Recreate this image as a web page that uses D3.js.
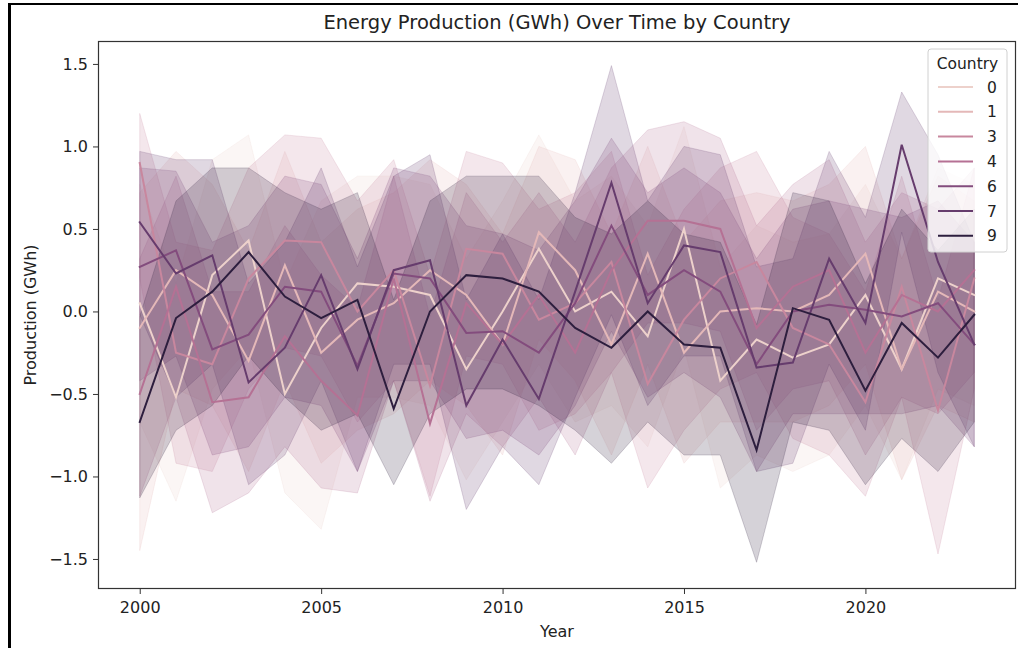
<!DOCTYPE html>
<html>
<head>
<meta charset="utf-8">
<script src="https://cdn.jsdelivr.net/npm/d3@7"></script>
<style>
  html, body { margin: 0; padding: 0; background: #fff; }
  svg { display: block; font-family: "DejaVu Sans", sans-serif; }
</style>
</head>
<body>
<svg id="chart" width="1018" height="648"></svg>
<script>
// Years on the x axis
const years = d3.range(2000, 2024);

// Country codes (hue levels)
const countries = [0, 1, 3, 4, 6, 7, 9];

// Mean production per country per year, with lower / upper 95% interval bounds
const mean0 = [0.05, -0.52, 0.22, 0.43, -0.5, -0.1, 0.17, 0.15, 0.1, -0.35, 0.0, 0.38, 0.0, 0.12, -0.15, 0.5, -0.42, -0.17, -0.28, -0.2, 0.1, -0.35, 0.2, 0.1];
const lo0   = [-0.67, -1.15, -0.47, -0.22, -1.1, -1.32, -0.52, -0.52, -0.57, -1.02, -0.67, -0.32, -0.67, -0.57, -0.82, -0.22, -1.07, -0.87, -0.97, -0.87, -0.57, -1.02, -0.47, -0.57];
const hi0   = [0.77, 0.17, 0.92, 1.07, 0.17, 0.67, 0.82, 0.82, 0.77, 0.32, 0.67, 1.07, 0.67, 0.82, 0.52, 1.12, 0.27, 0.52, 0.42, 0.47, 0.77, 0.32, 0.87, 0.77];

const mean1 = [-0.1, 0.25, 0.1, -0.3, 0.28, -0.25, -0.05, 0.05, 0.25, 0.1, -0.2, 0.48, 0.25, -0.2, 0.35, -0.25, 0.0, 0.02, 0.0, 0.1, 0.35, -0.35, 0.12, 0.0];
const lo1   = [-1.45, -0.47, -0.57, -0.97, -0.42, -0.92, -0.72, -0.62, -0.42, -0.57, -0.87, -0.17, -0.42, -0.87, -0.32, -0.92, -0.67, -0.67, -0.67, -0.57, -0.32, -1.02, -0.57, -0.67];
const hi1   = [0.72, 0.97, 0.77, 0.37, 0.97, 0.42, 0.62, 0.72, 0.92, 0.77, 0.47, 1.0, 0.92, 0.47, 1.0, 0.42, 0.67, 0.72, 0.67, 0.77, 1.0, 0.32, 0.82, 0.67];

const mean3 = [0.9, -0.25, -0.32, 0.2, 0.43, 0.42, 0.0, 0.25, -0.45, 0.38, 0.35, -0.05, 0.05, 0.3, -0.44, -0.05, 0.2, 0.3, -0.1, -0.2, -0.55, 0.15, -0.6, 0.2];
const lo3   = [0.2, -0.92, -0.97, -0.47, -0.22, -0.27, -0.67, -0.42, -1.12, -0.27, -0.32, -0.72, -0.62, -0.37, -1.07, -0.72, -0.47, -0.37, -0.77, -0.87, -1.12, -0.52, -1.47, -0.47];
const hi3   = [1.2, 0.42, 0.37, 0.87, 1.07, 1.05, 0.67, 0.92, 0.22, 0.97, 0.9, 0.62, 0.72, 0.97, 0.22, 0.62, 0.87, 0.97, 0.57, 0.47, 0.12, 0.82, 0.07, 0.87];

const mean4 = [-0.5, 0.15, -0.55, -0.52, -0.15, -0.42, -0.63, 0.2, -0.68, 0.05, -0.2, 0.1, -0.25, 0.25, 0.55, 0.55, 0.5, -0.1, 0.15, 0.25, -0.25, 0.1, 0.0, 0.25];
const lo4   = [-1.12, -0.52, -1.22, -1.1, -0.82, -1.07, -1.1, -0.42, -1.15, -0.62, -0.82, -0.52, -0.87, -0.37, -0.07, -0.07, -0.12, -0.72, -0.47, -0.42, -0.87, -0.52, -0.62, -0.37];
const hi4   = [0.32, 0.82, 0.12, 0.12, 0.52, 0.22, 0.02, 0.82, -0.03, 0.72, 0.42, 0.72, 0.42, 0.87, 1.1, 1.15, 1.05, 0.52, 0.77, 0.92, 0.42, 0.72, 0.62, 0.87];

const mean6 = [0.27, 0.37, -0.23, -0.14, 0.15, 0.12, -0.33, 0.23, 0.2, -0.13, -0.12, -0.25, 0.05, 0.52, 0.1, 0.25, 0.12, -0.32, 0.0, 0.04, 0.01, -0.03, 0.05, -0.2];
const lo6   = [-0.42, -0.27, -0.87, -0.82, -0.52, -0.57, -0.97, -0.42, -0.42, -0.77, -0.72, -0.87, -0.57, -0.12, -0.52, -0.37, -0.52, -0.97, -0.62, -0.62, -0.62, -0.62, -0.57, -0.82];
const hi6   = [0.87, 0.85, 0.42, 0.52, 0.82, 0.77, 0.32, 0.87, 0.82, 0.52, 0.47, 0.37, 0.67, 1.05, 0.72, 0.87, 0.72, 0.32, 0.62, 0.67, 0.62, 0.57, 0.67, 0.42];

const mean7 = [0.54, 0.23, 0.34, -0.43, -0.22, 0.22, -0.35, 0.25, 0.31, -0.57, -0.17, -0.53, 0.12, 0.78, 0.05, 0.4, 0.36, -0.34, -0.31, 0.32, -0.07, 1.01, 0.3, -0.2];
const lo7   = [-0.02, -0.52, -0.32, -1.05, -0.87, -0.42, -0.97, -0.32, -0.32, -1.2, -0.82, -1.05, -0.52, -0.02, -0.57, -0.27, -0.27, -0.97, -0.92, -0.32, -0.72, 0.48, -0.37, -0.82];
const hi7   = [0.97, 0.92, 0.92, 0.17, 0.42, 0.87, 0.27, 0.82, 0.95, 0.07, 0.47, 0.07, 0.72, 1.49, 0.67, 1.0, 0.95, 0.27, 0.32, 0.97, 0.57, 1.33, 0.95, 0.42];

const mean9 = [-0.67, -0.04, 0.12, 0.36, 0.09, -0.04, 0.07, -0.59, 0.0, 0.22, 0.2, 0.12, -0.1, -0.22, 0.0, -0.2, -0.22, -0.84, 0.02, -0.05, -0.48, -0.07, -0.28, -0.02];
const lo9   = [-1.13, -0.72, -0.57, -0.27, -0.52, -0.72, -0.62, -1.05, -0.62, -0.47, -0.47, -0.57, -0.72, -0.92, -0.67, -0.87, -0.87, -1.52, -0.67, -0.72, -1.05, -0.77, -0.97, -0.67];
const hi9   = [-0.03, 0.67, 0.87, 0.87, 0.72, 0.62, 0.72, 0.07, 0.67, 0.82, 0.82, 0.82, 0.57, 0.47, 0.67, 0.47, 0.42, -0.08, 0.72, 0.67, 0.17, 0.62, 0.37, 0.62];

const meanSeries = [mean0, mean1, mean3, mean4, mean6, mean7, mean9];
const loSeries   = [lo0, lo1, lo3, lo4, lo6, lo7, lo9];
const hiSeries   = [hi0, hi1, hi3, hi4, hi6, hi7, hi9];

// Axis ticks
const xTicks = [2000, 2005, 2010, 2015, 2020];
const yTicks = [-1.5, -1.0, -0.5, 0.0, 0.5, 1.0, 1.5];

const titleText = "Energy Production (GWh) Over Time by Country";
const xLabel = "Year";
const yLabel = "Production (GWh)";
const legendTitle = "Country";

// Sequential cubehelix colour map (start 0, rot 0.4, hue 0.8, light 0.85 -> dark 0.15)
function cubehelix(l) {
  const phi = 2 * Math.PI * (0 / 3 + 0.4 * l);
  const a = 0.8 * l * (1 - l) / 2;
  const c = Math.cos(phi), s = Math.sin(phi);
  const clamp = v => Math.max(0, Math.min(1, v));
  const r = clamp(l + a * (-0.14861 * c + 1.78277 * s));
  const g = clamp(l + a * (-0.29227 * c - 0.90649 * s));
  const b = clamp(l + a * (1.97294 * c));
  return d3.rgb(r * 255, g * 255, b * 255).formatHex();
}
const hueNorm = d3.scaleLinear().domain(d3.extent(countries)).range([0.85, 0.15]);
const colorOf = c => cubehelix(hueNorm(c));

const svg = d3.select("#chart");

// Plot area
const L = 98, R = 1016, T = 41, B = 589;
const x = d3.scaleLinear().domain([1998.85, 2024.15]).range([L, R]);
const y = d3.scaleLinear().domain([-1.682, 1.639]).range([B, T]);

const series = countries.map((c, i) => ({
  country: c,
  color: colorOf(c),
  points: years.map((yr, j) => ({ year: yr, mean: meanSeries[i][j], lo: loSeries[i][j], hi: hiSeries[i][j] }))
}));

const plot = svg.append("g");
svg.append("clipPath").attr("id", "plotclip")
  .append("rect").attr("x", L).attr("y", T).attr("width", R - L).attr("height", B - T);

// Confidence bands (drawn beneath all lines)
const area = d3.area().x(d => x(d.year)).y0(d => y(d.lo)).y1(d => y(d.hi));
plot.append("g").attr("clip-path", "url(#plotclip)")
  .selectAll("path").data(series).join("path")
  .attr("d", d => area(d.points))
  .attr("fill", d => d.color)
  .attr("fill-opacity", 0.2)
  .attr("stroke", d => d.color)
  .attr("stroke-opacity", 0.2)
  .attr("stroke-width", 1);

// Mean lines
const line = d3.line().x(d => x(d.year)).y(d => y(d.mean));
plot.append("g").attr("clip-path", "url(#plotclip)")
  .selectAll("path").data(series).join("path")
  .attr("d", d => line(d.points))
  .attr("fill", "none")
  .attr("stroke", d => d.color)
  .attr("stroke-width", 2)
  .attr("stroke-linejoin", "miter")
  .attr("stroke-linecap", "square");

// Axes
const fmtY = v => d3.format(".1f")(v).replace("-", "\u2212");
const xAxis = svg.append("g").attr("transform", `translate(0,${B})`)
  .call(d3.axisBottom(x).tickValues(xTicks).tickFormat(d3.format("d")).tickSize(5).tickPadding(5));
const yAxis = svg.append("g").attr("transform", `translate(${L},0)`)
  .call(d3.axisLeft(y).tickValues(yTicks).tickFormat(fmtY).tickSize(5).tickPadding(5));
[xAxis, yAxis].forEach(g => {
  g.select(".domain").remove();
  g.selectAll(".tick line").attr("stroke", "#333").attr("stroke-width", 1);
  g.selectAll(".tick text").attr("fill", "#222").attr("font-size", 16)
    .attr("font-family", "DejaVu Sans, sans-serif");
});
xAxis.selectAll(".tick text").attr("dy", "0.85em");

// Spines
svg.append("rect").attr("x", L + 0.5).attr("y", T + 0.5)
  .attr("width", R - L - 1).attr("height", B - T - 1)
  .attr("fill", "none").attr("stroke", "#333").attr("stroke-width", 1.2);

// Title and axis labels
svg.append("text").attr("x", (L + R) / 2).attr("y", 29)
  .attr("text-anchor", "middle").attr("font-size", 19.5).attr("fill", "#222").text(titleText);
svg.append("text").attr("x", (L + R) / 2).attr("y", 637)
  .attr("text-anchor", "middle").attr("font-size", 16).attr("fill", "#222").text(xLabel);
svg.append("text").attr("transform", `translate(36,${(T + B) / 2}) rotate(-90)`)
  .attr("text-anchor", "middle").attr("font-size", 16).attr("fill", "#222").text(yLabel);

// Legend
const lg = svg.append("g");
lg.append("rect").attr("x", 928).attr("y", 49).attr("width", 79).attr("height", 203)
  .attr("rx", 3).attr("fill", "#fff").attr("fill-opacity", 0.8)
  .attr("stroke", "#d0d0d0").attr("stroke-width", 1);
lg.append("text").attr("x", 967.5).attr("y", 69).attr("text-anchor", "middle")
  .attr("font-size", 15.5).attr("fill", "#222").text(legendTitle);
const item = lg.selectAll("g.item").data(series).join("g").attr("class", "item")
  .attr("transform", (d, i) => `translate(0,${87 + i * 24.8})`);
item.append("line").attr("x1", 938).attr("x2", 973).attr("y1", 0).attr("y2", 0)
  .attr("stroke", d => d.color).attr("stroke-width", 2);
item.append("text").attr("x", 987).attr("y", 0).attr("dy", "0.36em")
  .attr("font-size", 15.5).attr("fill", "#222").text(d => d.country);

// Figure frame (left and top edges)
svg.append("line").attr("x1", 9.5).attr("x2", 9.5).attr("y1", 3).attr("y2", 648)
  .attr("stroke", "#000").attr("stroke-width", 3);
svg.append("line").attr("x1", 8).attr("x2", 1018).attr("y1", 4).attr("y2", 4)
  .attr("stroke", "#000").attr("stroke-width", 2);
</script>
</body>
</html>
